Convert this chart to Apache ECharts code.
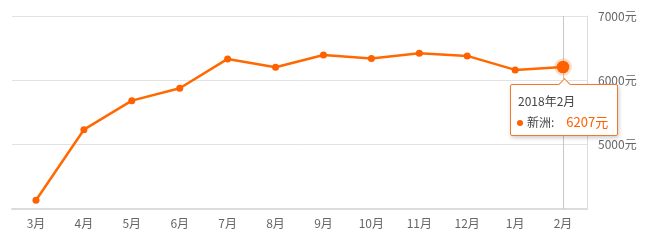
<!DOCTYPE html>
<html><head><meta charset="utf-8">
<script src="https://cdn.jsdelivr.net/npm/echarts@6/dist/echarts.min.js"></script>
<style>html,body{margin:0;padding:0;background:#fff}#c{width:655px;height:240px}</style>
</head><body><div id="c"></div>
<script>
var categories = ['3月','4月','5月','6月','7月','8月','9月','10月','11月','12月','1月','2月'];
var fullLabels = ['2017年3月','2017年4月','2017年5月','2017年6月','2017年7月','2017年8月','2017年9月','2017年10月','2017年11月','2017年12月','2018年1月','2018年2月'];
var seriesName = '新洲';
var values = [4135, 5233, 5684, 5877, 6333, 6204, 6395, 6338, 6421, 6380, 6162, 6207];
var yTicks = [4000, 5000, 6000, 7000];
var ORANGE = '#ff6000';
var chart = echarts.init(document.getElementById('c'));
chart.setOption({
  animation: false,
  grid: {left: 12, right: 68, top: 16, bottom: 31},
  tooltip: {
    trigger: 'axis',
    alwaysShowContent: true,
    backgroundColor: '#fff',
    borderColor: '#f07a2a',
    borderWidth: 1,
    padding: [6, 9, 5, 6],
    extraCssText: 'box-shadow:1px 2px 4px rgba(0,0,0,0.2);border-radius:2px;overflow:visible;',
    axisPointer: {type: 'line', z: 1, lineStyle: {color: '#c8c8c8', width: 1, type: 'solid'}},
    position: function (pt, params, dom, rect, size) { return [510, 84]; },
    formatter: function (params) {
      var p = params[0];
      return '<div style="position:relative;font-family:\'Noto Sans CJK SC\',sans-serif;font-size:12px;line-height:17px;color:#444">' +
        '<div style="position:absolute;left:43px;top:-12px;width:8px;height:8px;background:#fff;border-left:1px solid #f07a2a;border-top:1px solid #f07a2a;transform:rotate(45deg)"></div>' +
        '<div style="margin-top:1px;padding-left:1px">' + fullLabels[p.dataIndex] + '</div>' +
        '<div style="margin-top:4px"><span style="display:inline-block;width:6px;height:6px;border-radius:3px;background:' + ORANGE + ';margin-right:4px;vertical-align:1px"></span>' +
        p.seriesName + ':<span style="color:' + ORANGE + ';margin-left:12px;font-size:13px">' + p.value + '元</span></div></div>';
    }
  },
  xAxis: {
    type: 'category',
    data: categories,
    boundaryGap: true,
    axisLine: {lineStyle: {color: '#dcdcdc', width: 2}},
    axisTick: {alignWithLabel: true, length: 4, lineStyle: {color: '#dcdcdc'}},
    axisLabel: {color: '#666', fontSize: 12, margin: 8, fontFamily: 'Noto Sans CJK SC'}
  },
  yAxis: {
    type: 'value',
    position: 'right',
    min: 4000, max: 7000, interval: 1000,
    axisLine: {show: true, lineStyle: {color: '#dcdcdc', width: 1}},
    axisTick: {show: false},
    splitLine: {lineStyle: {color: '#e2e2e2', width: 1}},
    axisLabel: {
      color: '#666', fontSize: 12, margin: 11, fontFamily: 'Noto Sans CJK SC',
      formatter: function (v) { return yTicks.indexOf(v) >= 0 && v > 4000 ? v + '元' : ''; }
    }
  },
  series: [{
    name: seriesName,
    type: 'line',
    data: values,
    symbol: 'circle',
    symbolSize: 7,
    z: 5,
    lineStyle: {color: ORANGE, width: 2.5},
    itemStyle: {color: ORANGE},
    emphasis: {scale: 1.8, itemStyle: {color: ORANGE, borderColor: 'rgba(255,96,0,0.22)', borderWidth: 5}}
  }]
});
chart.dispatchAction({type: 'showTip', seriesIndex: 0, dataIndex: 11});
</script></body></html>
